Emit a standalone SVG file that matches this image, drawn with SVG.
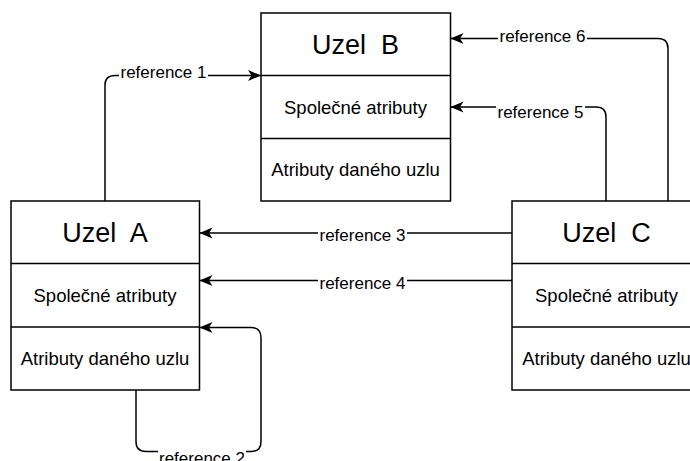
<svg xmlns="http://www.w3.org/2000/svg" width="690" height="461" viewBox="0 0 690 461">
  <style>
    .box { fill: #ffffff; stroke: #000000; stroke-width: 1.5; }
    .sep { stroke: #000000; stroke-width: 1.5; }
    .hdr { font-family: "Liberation Sans", Arial, sans-serif; font-size: 27px; fill: #000; text-anchor: middle; white-space: pre; }
    .row { font-family: "Liberation Sans", Arial, sans-serif; font-size: 18.5px; fill: #000; text-anchor: middle; }
    .edge { fill: none; stroke: #000000; stroke-width: 1.5; marker-end: url(#arrow); }
    .lbl { font-family: "Liberation Sans", Arial, sans-serif; font-size: 17px; fill: #000; text-anchor: middle; }
    .lblbg { fill: #ffffff; }
  </style>
  <defs>
    <marker id="arrow" markerUnits="userSpaceOnUse" markerWidth="14" markerHeight="12" refX="13" refY="6" orient="auto">
      <path d="M0,0.5 L13,6 L0,11.5 L3.5,6 Z" fill="#000000"/>
    </marker>
  </defs>

  <rect width="690" height="461" fill="#ffffff"/>

  <!-- Node B -->
  <g id="node-b">
    <rect class="box" x="261" y="13" width="189.5" height="188"/>
    <line class="sep" x1="261" y1="75.5" x2="450.5" y2="75.5"/>
    <line class="sep" x1="261" y1="138.5" x2="450.5" y2="138.5"/>
    <text class="hdr" x="355.5" y="53.5" xml:space="preserve">Uzel  B</text>
    <text class="row" x="355.5" y="113.5">Společné atributy</text>
    <text class="row" x="355.5" y="176">Atributy daného uzlu</text>
  </g>

  <!-- Node A -->
  <g id="node-a">
    <rect class="box" x="11" y="201" width="188.5" height="189"/>
    <line class="sep" x1="11" y1="263.5" x2="199.5" y2="263.5"/>
    <line class="sep" x1="11" y1="327" x2="199.5" y2="327"/>
    <text class="hdr" x="105" y="241.5" xml:space="preserve">Uzel  A</text>
    <text class="row" x="105" y="301.5">Společné atributy</text>
    <text class="row" x="105" y="365">Atributy daného uzlu</text>
  </g>

  <!-- Node C -->
  <g id="node-c">
    <rect class="box" x="512" y="201" width="189" height="189"/>
    <line class="sep" x1="512" y1="263.5" x2="701" y2="263.5"/>
    <line class="sep" x1="512" y1="327" x2="701" y2="327"/>
    <text class="hdr" x="606.5" y="241.5" xml:space="preserve">Uzel  C</text>
    <text class="row" x="606.5" y="301.5">Společné atributy</text>
    <text class="row" x="606.5" y="365">Atributy daného uzlu</text>
  </g>

  <!-- Connectors -->
  <g id="connectors">
    <path class="edge" d="M105,201 V85 Q105,75.5 115,75.5 H261"/>
    <path class="edge" d="M136,390 V441.5 Q136,451.5 146,451.5 H251 Q261,451.5 261,441.5 V337.5 Q261,327.5 251,327.5 H199.5"/>
    <path class="edge" d="M512,233 H199.5"/>
    <path class="edge" d="M512,280.5 H199.5"/>
    <path class="edge" d="M606,201 V117 Q606,107 596,107 H450.5"/>
    <path class="edge" d="M668,201 V48.5 Q668,38.5 658,38.5 H450.5"/>

    <!-- edge labels -->
    <rect class="lblbg" x="119" y="63" width="89" height="18"/>
    <text class="lbl" x="163.5" y="77.5">reference 1</text>

    <rect class="lblbg" x="158" y="449" width="88" height="18"/>
    <text class="lbl" x="202" y="464">reference 2</text>

    <rect class="lblbg" x="318" y="227" width="89" height="18"/>
    <text class="lbl" x="362.5" y="241">reference 3</text>

    <rect class="lblbg" x="318" y="275" width="89" height="18"/>
    <text class="lbl" x="362.5" y="289">reference 4</text>

    <rect class="lblbg" x="496" y="103" width="89" height="18"/>
    <text class="lbl" x="540.5" y="117.5">reference 5</text>

    <rect class="lblbg" x="498" y="27" width="89" height="18"/>
    <text class="lbl" x="542.5" y="41.5">reference 6</text>
  </g>
</svg>
